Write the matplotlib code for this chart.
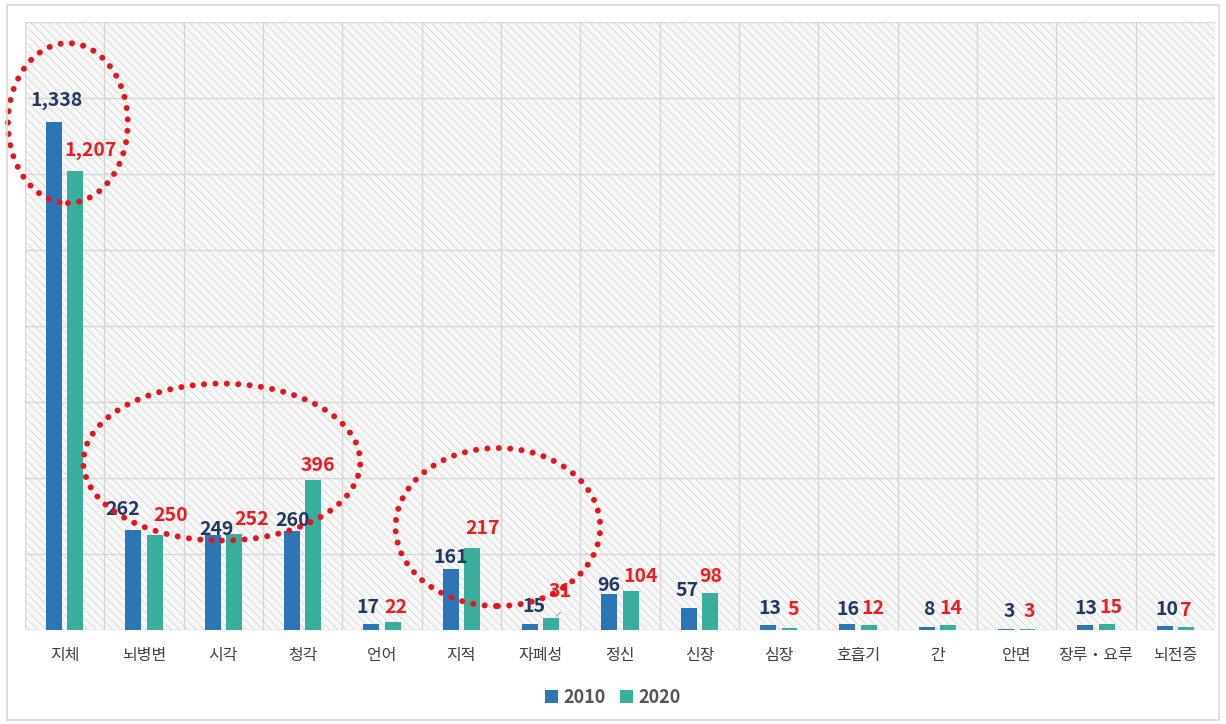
import numpy as np
import matplotlib
matplotlib.use("Agg")
import matplotlib.pyplot as plt
from matplotlib.patches import Ellipse, Rectangle

plt.rcParams['font.family'] = ['Noto Sans CJK KR', 'DejaVu Sans']
plt.rcParams['hatch.linewidth'] = 0.6

# 장애 유형별 인원 (2010 vs 2020)
categories = ['지체', '뇌병변', '시각', '청각', '언어', '지적', '자폐성', '정신',
              '신장', '심장', '호흡기', '간', '안면', '장루・요루', '뇌전증']
v2010 = [1338, 262, 249, 260, 17, 161, 15, 96, 57, 13, 16, 8, 3, 13, 10]
v2020 = [1207, 250, 252, 396, 22, 217, 31, 104, 98, 5, 12, 14, 3, 15, 7]
series_names = ['2010', '2020']

# label nudges in pixels (dx, gap above bar to baseline), as placed in the original
nudge2010 = [(3, 15), (-11, 14), (4, -1), (1, 4), (-3, 10), (0, 5), (4, 11), (-1, 2),
             (-2, 11), (2, 10), (1, 8), (2, 11), (3, 11), (1, 10), (2, 10)]
nudge2020 = [(15, 15), (16, 13), (18, 8), (4, 8), (3, 8), (10, 13), (9, 20), (10, 8),
             (1, 10), (4, 12), (4, 10), (3, 10), (2, 11), (4, 10), (0, 10)]

c_blue = '#2e75b6'
c_teal = '#3aae9c'
c_navy = '#1f3864'
c_red = '#ee1c1c'

fig = plt.figure(figsize=(12.26, 7.24), dpi=100)
fig.patches.append(Rectangle((0.006, 0.006), 0.988, 0.987, transform=fig.transFigure,
                             fill=False, edgecolor='#d8d8d8', lw=1.2))
ax = fig.add_axes([0.0204, 0.1298, 0.9707, 0.8398])

n = len(categories)
x = np.arange(n)
w = 0.2
off = 0.135

ax.set_xlim(-0.5, n - 0.5)
ax.set_ylim(0, 1600)

# hatched background
ax.add_patch(Rectangle((-0.5, 0), n, 1600, facecolor='#f8f8f8', edgecolor='#d6d6d6',
                       hatch='\\\\\\\\', lw=0, zorder=0))

for gx in np.arange(-0.5, n, 1.0):
    ax.axvline(gx, color='#d6d6d6', lw=1, zorder=1)
for gy in range(200, 1601, 200):
    ax.axhline(gy, color='#d6d6d6', lw=1, zorder=1)
ax.axhline(0, color='#cfcfcf', lw=1, zorder=1)

b1 = ax.bar(x - off, v2010, w, color=c_blue, zorder=3, label=series_names[0])
b2 = ax.bar(x + off, v2020, w, color=c_teal, zorder=3, label=series_names[1])

for xi, v, (dx, dy) in zip(x, v2010, nudge2010):
    ax.annotate(f"{v:,}", (xi - off, v), xytext=(dx, dy + 1), textcoords='offset pixels',
                ha='center', va='baseline', fontsize=14, fontweight='bold',
                color=c_navy, zorder=5)
for xi, v, (dx, dy) in zip(x, v2020, nudge2020):
    ax.annotate(f"{v:,}", (xi + off, v), xytext=(dx, dy + 1), textcoords='offset pixels',
                ha='center', va='baseline', fontsize=14, fontweight='bold',
                color=c_red, zorder=5)

# small leader line for the 자폐성 2020 label
ax.annotate('', (x[6] + off + 0.03, v2020[6]), xytext=(x[6] + off + 0.14, v2020[6] + 20),
            arrowprops=dict(arrowstyle='-', color='#a0a0a0', lw=0.8), zorder=4)

# red dotted highlight circles
for (cx, cy, ew, eh) in [(0.04, 1334, 1.51, 421), (1.98, 442, 3.49, 413), (5.46, 271, 2.58, 416)]:
    ax.add_patch(Ellipse((cx, cy), ew, eh, fill=False, edgecolor='#e8141c', lw=4.3,
                         linestyle=(0, (0.01, 1.9)), capstyle='round', zorder=6,
                         clip_on=False))

ax.set_xticks(x)
ax.set_xticklabels(categories, fontsize=11.5, color='#404040')
ax.tick_params(axis='x', length=0, pad=12)
ax.set_yticks([])
for s in ax.spines.values():
    s.set_visible(False)

leg = fig.legend(handles=[b1, b2], loc='center', bbox_to_anchor=(0.5, 0.037), ncol=2,
                 frameon=False, fontsize=13, handlelength=0.7, handleheight=0.7,
                 handletextpad=0.3, columnspacing=0.8)
for t in leg.get_texts():
    t.set_color('#555555')
    t.set_fontweight('bold')

fig.savefig('out.png', dpi=100)
